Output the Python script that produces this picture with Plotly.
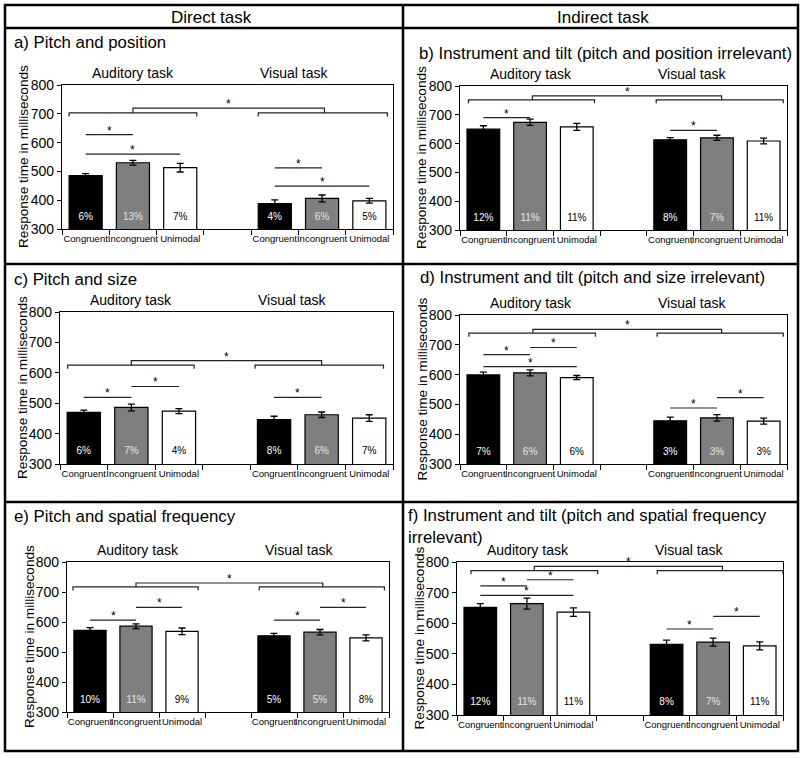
import plotly.graph_objects as go

W, H = 800, 758

# ---------------- data ----------------
header_labels = ["Direct task", "Indirect task"]
panel_titles = [
    "a) Pitch and position",
    "b) Instrument and tilt (pitch and position irrelevant)",
    "c) Pitch and size",
    "d) Instrument and tilt (pitch and size irrelevant)",
    "e) Pitch and spatial frequency",
    "f) Instrument and tilt (pitch and spatial frequency<br>irrelevant)",
]
task_labels = ["Auditory task", "Visual task"]
conditions = ["Congruent", "Incongruent", "Unimodal"]
yticks = [300, 400, 500, 600, 700, 800]
y_title = "Response time in milliseconds"

# mean RT: auditory C, I, U then visual C, I, U
rt_a = [485, 530, 513, 388, 406, 398]
rt_b = [650, 674, 658, 613, 620, 609]
rt_c = [470, 486, 474, 446, 462, 451]
rt_d = [599, 606, 590, 445, 455, 444]
rt_e = [572, 586, 569, 554, 566, 547]
rt_f = [652, 664, 636, 531, 538, 526]

# standard errors
se_a = [7, 8, 15, 13, 12, 8]
se_b = [12, 11, 12, 8, 9, 10]
se_c = [7, 11, 8, 11, 9, 11]
se_d = [9, 10, 7, 12, 11, 10]
se_e = [9, 8, 11, 8, 9, 10]
se_f = [12, 18, 14, 14, 13, 13]

# error rates
er_a = ["6%", "13%", "7%", "4%", "6%", "5%"]
er_b = ["12%", "11%", "11%", "8%", "7%", "11%"]
er_c = ["6%", "7%", "4%", "8%", "6%", "7%"]
er_d = ["7%", "6%", "6%", "3%", "3%", "3%"]
er_e = ["10%", "11%", "9%", "5%", "5%", "8%"]
er_f = ["12%", "11%", "11%", "8%", "7%", "11%"]

# significant pairwise comparisons (bar i, bar j, level in ms)
pairs_a = [(0, 1, 628), (0, 2, 560), (3, 4, 512), (3, 5, 449)]
pairs_b = [(0, 1, 690), (3, 4, 646)]
pairs_c = [(0, 1, 519), (1, 2, 555), (3, 4, 519)]
pairs_d = [(0, 1, 667), (0, 2, 627), (1, 2, 691), (3, 4, 488), (4, 5, 523)]
pairs_e = [(0, 1, 606), (1, 2, 649), (3, 4, 606), (4, 5, 649)]
pairs_f = [(0, 1, 722), (0, 2, 691), (1, 2, 742), (3, 4, 581), (4, 5, 622)]

# task x congruency interaction bracket (bracket level, connector level)
inter_a = (703, 720)
inter_b = (752, 766)
inter_c = (625, 640)
inter_d = (739, 752)
inter_e = (717, 730)
inter_f = (772, 786)

rts = [rt_a, rt_b, rt_c, rt_d, rt_e, rt_f]
ses = [se_a, se_b, se_c, se_d, se_e, se_f]
ers = [er_a, er_b, er_c, er_d, er_e, er_f]
pairs = [pairs_a, pairs_b, pairs_c, pairs_d, pairs_e, pairs_f]
inters = [inter_a, inter_b, inter_c, inter_d, inter_e, inter_f]

# ---------------- layout geometry (pixels) ----------------
slots = [0, 1, 2, 4, 5, 6]
# axis boxes: left, right, top, bottom
boxes = [
    (62, 393, 85, 229),
    (460, 787, 86, 230),
    (60, 393, 312, 464),
    (460, 787, 315, 464),
    (67, 389, 562, 712),
    (457, 783, 562, 715),
]
title_pos = [(12, 43), (417, 53), (12, 279), (418, 278), (12, 516), (406, 526)]
# bracket geometry in slot units: aud span, vis span, connector xs
brk = [
    ((-0.35, 2.35), (3.65, 6.38), (1.0, 5.05)),
    ((-0.32, 2.38), (3.7, 6.42), (1.05, 5.1)),
    ((-0.34, 2.32), (3.6, 6.3), (1.0, 5.0)),
    ((-0.31, 2.4), (3.72, 6.42), (1.06, 5.1)),
    ((-0.37, 2.35), (3.68, 6.4), (1.0, 5.06)),
    ((-0.2, 2.52), (3.8, 6.5), (1.16, 5.2)),
]

FONT = "Liberation Sans, Arial, Helvetica, sans-serif"
bar_colors = ["black", "#7f7f7f", "white"] * 2
txt_colors = ["white", "#e6e6e6", "black"] * 2


def px(x):
    return x / W


def py(y):
    return 1 - y / H


fig = go.Figure()
shapes = []
annotations = []

for i in range(6):
    n = "" if i == 0 else str(i + 1)
    xr, yr = "x" + n, "y" + n
    l, r, t, b = boxes[i]

    fig.add_trace(go.Bar(
        x=slots, y=rts[i], width=0.7, xaxis=xr, yaxis=yr,
        marker=dict(color=bar_colors, line=dict(color="black", width=1.2)),
        error_y=dict(type="data", array=ses[i], color="black", thickness=1.3, width=3.5),
        showlegend=False, hoverinfo="y",
    ))
    fig.add_trace(go.Scatter(
        x=slots, y=[340] * 6, text=ers[i], mode="text", xaxis=xr, yaxis=yr,
        textfont=dict(family=FONT, size=10, color=txt_colors),
        showlegend=False, hoverinfo="skip", cliponaxis=False,
    ))

    fig.update_layout(**{
        "xaxis" + n: dict(
            domain=[px(l), px(r)], anchor=yr, range=[-0.5, 6.5],
            tickmode="array", tickvals=slots, ticktext=conditions * 2,
            ticks="", tickangle=0, showgrid=False, zeroline=False,
            showline=True, linecolor="black", linewidth=1.2, mirror=True,
            tickfont=dict(family=FONT, size=9.5, color="black"),
            minor=dict(tickmode="array", tickvals=[k - 0.5 for k in range(8)],
                       ticks="outside", ticklen=5, tickcolor="black", tickwidth=1),
            fixedrange=True, automargin=False,
        ),
        "yaxis" + n: dict(
            domain=[py(b), py(t)], anchor=xr, range=[300, 800],
            tickmode="array", tickvals=yticks, ticks="outside", ticklen=4,
            tickcolor="black", showgrid=False, zeroline=False,
            showline=True, linecolor="black", linewidth=1.2, mirror=True,
            tickfont=dict(family=FONT, size=14, color="black"),
            fixedrange=True, automargin=False,
        ),
    })

    # y axis title
    annotations.append(dict(
        text=y_title, xref="paper", yref="paper", x=px(l - 38), y=py((t + b) / 2),
        textangle=-90, showarrow=False, xanchor="center", yanchor="middle",
        font=dict(family=FONT, size=13.6, color="black"),
    ))
    # task labels
    for k, lab in enumerate(task_labels):
        annotations.append(dict(
            text=lab, xref="paper", yref="paper", x=px(l + (71 if k == 0 else 232)),
            y=py(t - 12), showarrow=False, xanchor="center", yanchor="middle",
            font=dict(family=FONT, size=14, color="black"),
        ))
    # panel title
    tx, ty = title_pos[i]
    annotations.append(dict(
        text=panel_titles[i], xref="paper", yref="paper", x=px(tx), y=py(ty),
        showarrow=False, xanchor="left", yanchor="middle", align="left",
        font=dict(family=FONT, size=16.8, color="black"),
    ))

    line = dict(color="#222222", width=1.2)
    # pairwise lines
    for (a, c, lev) in pairs[i]:
        x0, x1 = slots[a], slots[c]
        shapes.append(dict(type="line", xref=xr, yref=yr, x0=x0, x1=x1,
                           y0=lev, y1=lev, line=line))
        annotations.append(dict(text="*", xref=xr, yref=yr, x=(x0 + x1) / 2, y=lev,
                                showarrow=False, yanchor="bottom", yshift=-5,
                                font=dict(family=FONT, size=12, color="black")))
    # interaction bracket
    yb, yc = inters[i]
    (a0, a1), (v0, v1), (c0, c1) = brk[i]
    d = 12
    for (s0, s1) in [(a0, a1), (v0, v1)]:
        shapes.append(dict(type="path", xref=xr, yref=yr, line=line,
                           path=f"M {s0},{yb - d} L {s0},{yb} L {s1},{yb} L {s1},{yb - d}"))
    shapes.append(dict(type="path", xref=xr, yref=yr, line=line,
                       path=f"M {c0},{yb} L {c0},{yc} L {c1},{yc} L {c1},{yb}"))
    annotations.append(dict(text="*", xref=xr, yref=yr, x=(c0 + c1) / 2, y=yc,
                            showarrow=False, yanchor="bottom", yshift=-5,
                            font=dict(family=FONT, size=12, color="black")))

# header texts
annotations.append(dict(text=header_labels[0], xref="paper", yref="paper", x=px(211), y=py(17),
                        showarrow=False, xanchor="center", yanchor="middle",
                        font=dict(family=FONT, size=17, color="black")))
annotations.append(dict(text=header_labels[1], xref="paper", yref="paper", x=px(603), y=py(17),
                        showarrow=False, xanchor="center", yanchor="middle",
                        font=dict(family=FONT, size=17, color="black")))

# frame
frame = dict(color="black", width=2.5)
shapes.append(dict(type="rect", xref="paper", yref="paper", x0=px(5), x1=px(798),
                   y0=py(751), y1=py(5), line=frame))
for yy in [28, 264, 502]:
    shapes.append(dict(type="line", xref="paper", yref="paper", x0=px(5), x1=px(798),
                       y0=py(yy), y1=py(yy), line=frame))
shapes.append(dict(type="line", xref="paper", yref="paper", x0=px(403), x1=px(403),
                   y0=py(751), y1=py(5), line=frame))

fig.update_layout(
    width=W, height=H, margin=dict(l=0, r=0, t=0, b=0, autoexpand=False),
    paper_bgcolor="white", plot_bgcolor="white",
    shapes=shapes, annotations=annotations, barmode="overlay",
    font=dict(family=FONT, color="black"), showlegend=False,
)

fig.write_html(
    "out.html",
    config={"displayModeBar": False},
    post_script="document.body.style.margin='0px';document.body.style.overflow='hidden';",
)
